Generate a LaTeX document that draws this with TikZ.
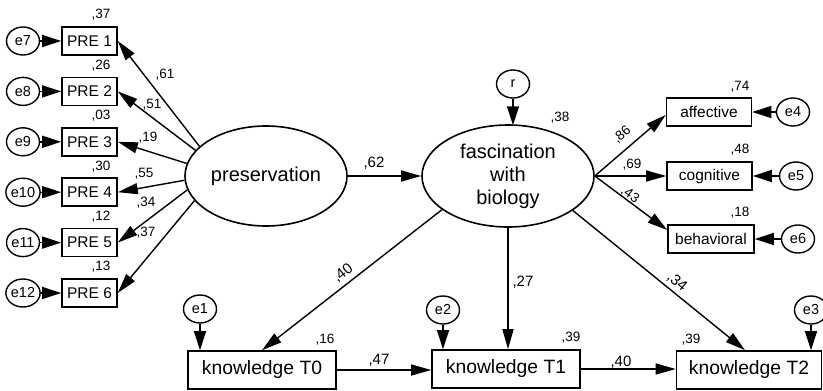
\documentclass[tikz,border=0pt]{standalone}
\usepackage{fontspec}
\setmainfont{Liberation Sans}
\usetikzlibrary{arrows.meta,shapes.geometric}
\tikzset{
  box/.style={draw, line width=1.6pt, rectangle, inner sep=0pt, minimum height=28pt, font=\fontsize{15.5}{18}\selectfont},
  kbox/.style={draw, line width=1.6pt, rectangle, inner sep=0pt, minimum height=38pt, font=\fontsize{19.3}{22}\selectfont},
  lat/.style={draw, ellipse, line width=1.6pt, inner sep=0pt, font=\fontsize{20}{23}\selectfont, align=center},
  err/.style={draw, ellipse, line width=1.4pt, minimum width=33pt, minimum height=28pt, inner sep=0pt, font=\fontsize{14.5}{16}\selectfont},
  pth/.style={line width=1.4pt, -{Triangle[length=20pt,width=11pt]}},
  errarr/.style={line width=1.4pt, -{Triangle[length=19pt,width=12pt]}},
  coef/.style={font=\fontsize{13.5}{15}\selectfont, inner sep=0pt},
  coefL/.style={font=\fontsize{15}{17}\selectfont, inner sep=0pt},
}
\begin{document}
\begin{tikzpicture}[x=1pt,y=-1pt]
\useasboundingbox (0,0) rectangle (823,391);
% latent variables
\node[lat, minimum width=162pt, minimum height=100pt] (pres) at (266,176) {preservation};
\node[lat, minimum width=172pt, minimum height=102pt] (fasc) at (508,176) {fascination\\with\\biology};
% PRE indicators
\node[box, minimum width=55pt] (pre1) at (89.5,41) {PRE 1};
\node[box, minimum width=55pt] (pre2) at (89.5,91.4) {PRE 2};
\node[box, minimum width=55pt] (pre3) at (89.5,141.8) {PRE 3};
\node[box, minimum width=55pt] (pre4) at (89.5,192.2) {PRE 4};
\node[box, minimum width=55pt] (pre5) at (89.5,242.6) {PRE 5};
\node[box, minimum width=55pt] (pre6) at (89.5,293) {PRE 6};
\node[err] (e7) at (23,41) {e7};
\node[err] (e8) at (23,91.4) {e8};
\node[err] (e9) at (23,141.8) {e9};
\node[err] (e10) at (23,192.2) {e10};
\node[err] (e11) at (23,242.6) {e11};
\node[err] (e12) at (23,293) {e12};
\foreach \a/\b in {e7/pre1,e8/pre2,e9/pre3,e10/pre4,e11/pre5,e12/pre6}
  \draw[errarr] (\a) -- (\b);
\draw[pth] (pres.156) -- (pre1.east);
\draw[pth] (pres.160.6) -- (pre2.east);
\draw[pth] (pres.171.6) -- (pre3.east);
\draw[pth] (pres.183.4) -- (pre4.east);
\draw[pth] (pres.190.9) -- (pre5.east);
\draw[pth] (pres.199.4) -- (pre6.east);
% R2 of PRE
\node[coef] (r1) at (101,15) {,37};
\node[coef] (r2) at (101,65.4) {,26};
\node[coef] (r3) at (101,115.8) {,03};
\node[coef] (r4) at (101,166.2) {,30};
\node[coef] (r5) at (101,216.6) {,12};
\node[coef] (r6) at (101,267) {,13};
% loadings
\node[coef] (l1) at (165,75) {,61};
\node[coef] (l2) at (152,105) {,51};
\node[coef] (l3) at (148,138) {,19};
\node[coef] (l4) at (144,174) {,55};
\node[coef] (l5) at (146,203) {,34};
\node[coef] (l6) at (146,233) {,37};
% preservation -> fascination
\draw[pth] (pres) -- (fasc);
\node[coefL] (c62) at (374,163) {,62};
% r
\node[err] (r) at (513,84) {r};
\coordinate (rtip) at (513,125.3);
\draw[errarr] (r) -- (rtip);
\node[coef] (c38) at (560,118) {,38};
% right indicators
\node[box, minimum width=85pt] (aff) at (709,112) {affective};
\node[box, minimum width=85pt] (cog) at (709.5,176) {cognitive};
\node[box, minimum width=86pt] (beh) at (711,239) {behavioral};
\node[err] (e4) at (793,112) {e4};
\node[err] (e5) at (796,176) {e5};
\node[err] (e6) at (798,239) {e6};
\draw[errarr] (e4) -- (aff);
\draw[errarr] (e5) -- (cog);
\draw[errarr] (e6) -- (beh);
\draw[pth] (fasc.east) -- ([yshift=-3pt]aff.west);
\draw[pth] (fasc.east) -- (cog.west);
\draw[pth] (fasc.east) -- ([yshift=9pt]beh.west);
\node[coef, rotate=40] (c86) at (622,135) {,86};
\node[coef] (c69) at (632,165) {,69};
\node[coef, rotate=-35] (c43) at (630,195) {,43};
\node[coef] (c74) at (740,87) {,74};
\node[coef] (c48) at (740,150) {,48};
\node[coef] (c18) at (740,213) {,18};
% knowledge
\node[kbox, minimum width=148pt] (T0) at (262,370) {knowledge T0};
\node[kbox, minimum width=148pt] (T1) at (506,369) {knowledge T1};
\node[kbox, minimum width=145pt] (T2) at (749,370) {knowledge T2};
\node[err] (e1) at (200,309) {e1};
\node[err] (e2) at (443,310) {e2};
\node[err] (e3) at (811,310) {e3};
\draw[errarr] (e1) -- (e1 |- T0.north);
\draw[errarr] (e2) -- (e2 |- T1.north);
\draw[errarr] (e3) -- (e3 |- T2.north);
\draw[pth] (T0.east) -- (T0.east -| T1.west);
\draw[pth] (T1.east) -- (T1.east -| T2.west);
\draw[pth] (fasc.207.9) -- (T0.north);
\draw[pth] (fasc.south) -- (fasc.south |- T1.north);
\draw[pth] (fasc.332.4) -- ([xshift=-4pt]T2.north);
\node[coefL, rotate=38] (c40a) at (343,273) {,40};
\node[coefL] (c27) at (523,282) {,27};
\node[coefL, rotate=-40] (c34) at (677,282) {,34};
\node[coef] (c16) at (325,340) {,16};
\node[coef] (c39a) at (571,338) {,39};
\node[coef] (c39b) at (691,340) {,39};
\node[coefL] (c47) at (379,360) {,47};
\node[coefL] (c40b) at (621,362) {,40};
\end{tikzpicture}
\end{document}
